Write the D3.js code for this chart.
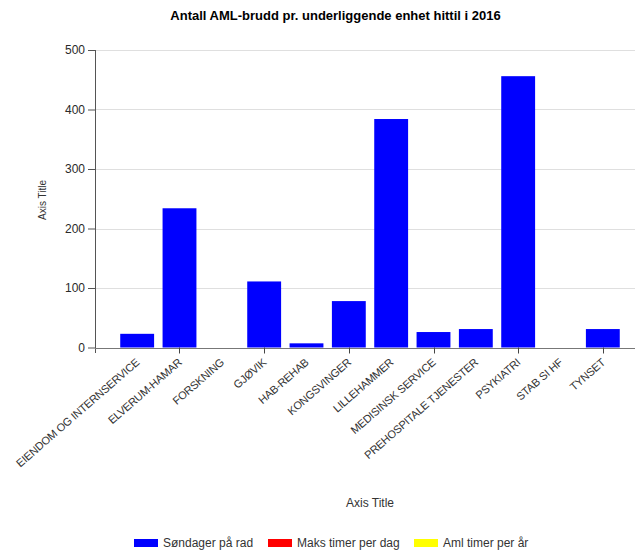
<!DOCTYPE html>
<html>
<head>
<meta charset="utf-8">
<script src="https://cdn.jsdelivr.net/npm/d3@7/dist/d3.min.js"></script>
<style>
  html, body { margin: 0; padding: 0; background: #fff; }
  svg { display: block; font-family: "Liberation Sans", Arial, sans-serif; }
</style>
</head>
<body>
<svg id="chart" width="635" height="550"></svg>
<script>
// Units (x categories)
const categories = [
  "EIENDOM OG INTERNSERVICE", "ELVERUM-HAMAR", "FORSKNING", "GJØVIK",
  "HAB-REHAB", "KONGSVINGER", "LILLEHAMMER", "MEDISINSK SERVICE",
  "PREHOSPITALE TJENESTER", "PSYKIATRI", "STAB SI HF", "TYNSET"
];
// Sundays in a row, per unit
const sondagerPaRad = [23, 234, 0, 111, 7, 78, 384, 26, 31, 456, 0, 31];
// Y-axis ticks
const yTicks = [0, 100, 200, 300, 400, 500];
// Legend series
const seriesNames = ["Søndager på rad", "Maks timer per dag", "Aml timer per år"];
const seriesColors = ["#0000ff", "#ff0000", "#ffff00"];

const svg = d3.select("#chart");
const plot = { left: 95, right: 635, top: 50, bottom: 347.5 };

const x = d3.scaleBand()
  .domain(categories)
  .range([116, 624])
  .paddingInner(0.2)
  .paddingOuter(0.1);

const y = d3.scaleLinear()
  .domain([0, 500])
  .range([plot.bottom, plot.top]);

// Title
svg.append("text")
  .attr("x", 335.5).attr("y", 20)
  .attr("text-anchor", "middle")
  .attr("font-size", 13).attr("font-weight", "bold")
  .attr("fill", "#000")
  .text("Antall AML-brudd pr. underliggende enhet hittil i 2016");

// Horizontal gridlines
svg.append("g")
  .selectAll("line")
  .data(yTicks.filter(d => d > 0))
  .join("line")
  .attr("x1", plot.left).attr("x2", plot.right)
  .attr("y1", d => Math.round(y(d)) + 0.5).attr("y2", d => Math.round(y(d)) + 0.5)
  .attr("stroke", "#dfdfdf").attr("stroke-width", 1);

// Bars
svg.append("g")
  .selectAll("rect")
  .data(categories.map((c, i) => ({ c, v: sondagerPaRad[i] })))
  .join("rect")
  .attr("x", d => x(d.c))
  .attr("width", x.bandwidth())
  .attr("y", d => y(d.v))
  .attr("height", d => y(0) - y(d.v))
  .attr("fill", seriesColors[0]);

// Y axis
const yAxis = svg.append("g")
  .attr("transform", `translate(${plot.left},0)`)
  .call(d3.axisLeft(y).tickValues(yTicks).tickSize(7).tickSizeOuter(0).tickPadding(3));
yAxis.select(".domain").remove();
yAxis.selectAll(".tick line").attr("stroke", "#555");
yAxis.selectAll(".tick text")
  .attr("font-size", 12).attr("fill", "#2a2a2a")
  .attr("font-family", "Liberation Sans, Arial, sans-serif");
svg.append("line")
  .attr("x1", plot.left + 0.5).attr("x2", plot.left + 0.5)
  .attr("y1", plot.top).attr("y2", plot.bottom + 5.5)
  .attr("stroke", "#555");

// X axis line
svg.append("line")
  .attr("x1", plot.left).attr("x2", plot.right)
  .attr("y1", Math.round(y(0)) + 0.5).attr("y2", Math.round(y(0)) + 0.5)
  .attr("stroke", "#777");

// X ticks on every second category
svg.append("g")
  .selectAll("line")
  .data(categories.filter((c, i) => i % 2 === 1))
  .join("line")
  .attr("x1", d => Math.round(x(d) + x.bandwidth() / 2) + 0.5)
  .attr("x2", d => Math.round(x(d) + x.bandwidth() / 2) + 0.5)
  .attr("y1", y(0)).attr("y2", y(0) + 6)
  .attr("stroke", "#444");

// X labels, rotated
svg.append("g")
  .selectAll("text")
  .data(categories)
  .join("text")
  .attr("transform", d => `translate(${x(d) + x.bandwidth() / 2 + 3},${y(0) + 16}) rotate(-41)`)
  .attr("text-anchor", "end")
  .attr("font-size", 11)
  .attr("letter-spacing", -0.2)
  .attr("fill", "#333")
  .text(d => d);

// Axis titles
svg.append("text")
  .attr("x", 370).attr("y", 507)
  .attr("text-anchor", "middle")
  .attr("font-size", 12).attr("fill", "#333")
  .text("Axis Title");

svg.append("text")
  .attr("transform", "translate(46,200) rotate(-90)")
  .attr("text-anchor", "middle")
  .attr("font-size", 10).attr("fill", "#333")
  .text("Axis Title");

// Legend
const legendX = [134, 268, 414];
const legend = svg.append("g")
  .selectAll("g")
  .data(seriesNames)
  .join("g")
  .attr("transform", (d, i) => `translate(${legendX[i]},539)`);
legend.append("rect")
  .attr("width", 24).attr("height", 8)
  .attr("fill", (d, i) => seriesColors[i]);
legend.append("text")
  .attr("x", 29).attr("y", 8)
  .attr("font-size", 12).attr("fill", "#333")
  .text(d => d);
</script>
</body>
</html>
